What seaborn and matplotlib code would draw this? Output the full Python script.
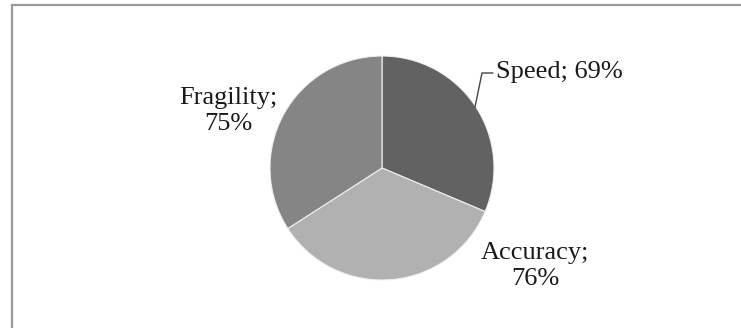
import matplotlib
matplotlib.use("Agg")
import matplotlib.pyplot as plt
import seaborn as sns
from matplotlib.patches import Rectangle

categories = ["Speed", "Accuracy", "Fragility"]
values = [69, 76, 75]
colors = ["#626262", "#b1b1b1", "#858585"]
label_texts = ["Speed; 69%", "Accuracy;\n76%", "Fragility;\n75%"]

sns.set_theme(style="white")
plt.rcParams['font.family'] = ['Liberation Serif', 'DejaVu Serif']

W, H = 741, 328
fig = plt.figure(figsize=(W / 100, H / 100), dpi=100)
ax = fig.add_axes([0, 0, 1, 1])
ax.set_xlim(0, W)
ax.set_ylim(0, H)
ax.axis("off")

ax.pie(values, colors=colors, startangle=90, counterclock=False,
       center=(382, H - 168), radius=112,
       wedgeprops=dict(edgecolor="#f0f0f0", linewidth=0.8))
ax.set_xlim(0, W)
ax.set_ylim(0, H)
ax.set_aspect("equal")

fs = 19
ax.text(496, H - 72, label_texts[0], ha="left", va="center", fontsize=fs, color="#1a1a1a")
ax.plot([475, 482, 493], [H - 107, H - 73, H - 73], color="#444444", lw=1.0)
ax.text(535, H - 266, label_texts[1], ha="center", va="center", fontsize=fs,
        color="#1a1a1a", linespacing=1.25)
ax.text(228, H - 111, label_texts[2], ha="center", va="center", fontsize=fs,
        color="#1a1a1a", linespacing=1.25)

ax.add_patch(Rectangle((12, -20), 760, H - 5 + 20, fill=False,
                       edgecolor="#9a9a9a", lw=1.6, clip_on=False))

fig.savefig("out.png", dpi=100)
